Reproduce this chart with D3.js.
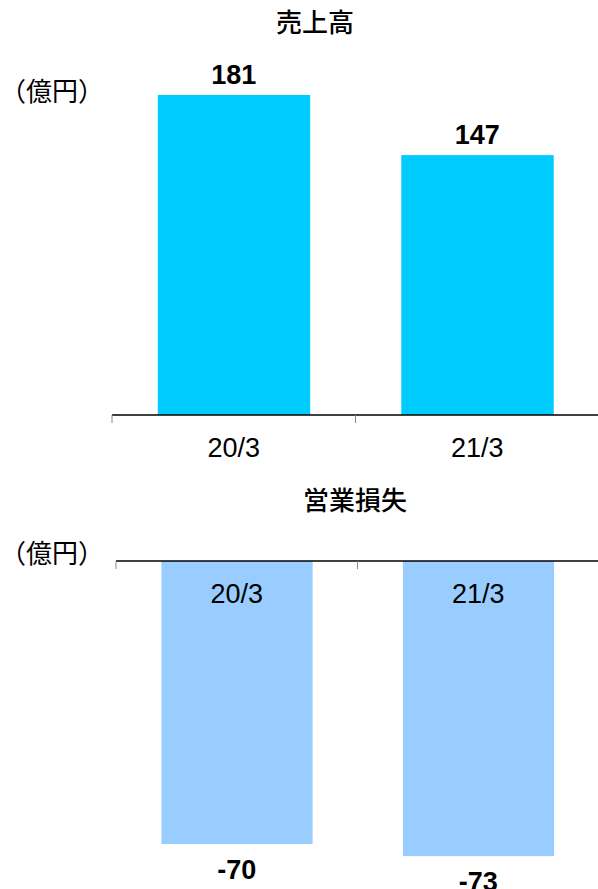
<!DOCTYPE html>
<html><head><meta charset="utf-8">
<script src="https://cdn.jsdelivr.net/npm/d3@7"></script>
<style>
body{margin:0;background:#fff;}
svg{display:block;}
.lat{font-family:"Liberation Sans",Arial,sans-serif;}
.cjk{font-family:"Noto Sans CJK JP",sans-serif;}
</style></head>
<body>
<script>
const categories = ["20/3", "21/3"];
const salesValues = [181, 147];
const lossValues = [-70, -73];
const titles = ["売上高", "営業損失"];
const unitLabel = "（億円）";

const W = 598, H = 889;
const svg = d3.select("body").append("svg").attr("width", W).attr("height", H);

function drawPanel(cfg) {
  const g = svg.append("g");
  const x = d3.scaleBand().domain(categories).range([cfg.x0, cfg.x0 + cfg.step * categories.length]).padding(0);
  const y = d3.scaleLinear().domain(cfg.domain).range(cfg.range);
  const bw = x.bandwidth();
  const data = categories.map((c, i) => ({c, v: cfg.values[i]}));

  g.selectAll("rect").data(data).join("rect")
    .attr("x", d => x(d.c) + bw * 0.188)
    .attr("width", bw * 0.626)
    .attr("y", d => Math.min(y(0), y(d.v)))
    .attr("height", d => Math.abs(y(d.v) - y(0)))
    .attr("fill", cfg.color);

  const y0 = y(0);
  g.append("line").attr("x1", cfg.x0).attr("x2", W + 5).attr("y1", y0).attr("y2", y0)
    .attr("stroke", "#000").attr("stroke-width", 1.3);
  const bounds = categories.map(c => x(c)).concat([x(categories[categories.length - 1]) + bw]);
  g.selectAll("line.tk").data(bounds).join("line").attr("class", "tk")
    .attr("x1", d => d).attr("x2", d => d).attr("y1", y0).attr("y2", y0 + 8)
    .attr("stroke", "#888").attr("stroke-width", 1);

  g.selectAll("text.cat").data(data).join("text").attr("class", "cat lat")
    .attr("x", d => x(d.c) + bw / 2).attr("y", y0 + cfg.catDy)
    .attr("text-anchor", "middle").attr("font-size", 27).attr("fill", "#000")
    .text(d => d.c);

  g.selectAll("text.val").data(data).join("text").attr("class", "val lat")
    .attr("x", d => x(d.c) + bw / 2)
    .attr("y", d => y(d.v) + (d.v >= 0 ? -11 : 35))
    .attr("text-anchor", "middle").attr("font-size", 27).attr("font-weight", "bold").attr("fill", "#000")
    .text(d => d.v);

  g.append("text").attr("class", "cjk").attr("x", cfg.titleX).attr("y", cfg.titleY)
    .attr("text-anchor", "middle").attr("font-size", 26).attr("font-weight", 500).text(cfg.title);
  g.append("text").attr("class", "cjk").attr("x", 0).attr("y", cfg.unitY)
    .attr("font-size", 26).text(unitLabel);
}

drawPanel({values: salesValues, domain: [0, 181], range: [415, 95], x0: 112, step: 243.5,
  color: "#00CCFF", catDy: 42, title: titles[0], titleX: 315, titleY: 32, unitY: 101});
drawPanel({values: lossValues, domain: [0, -70], range: [561, 844], x0: 116, step: 241.5,
  color: "#99CCFF", catDy: 42, title: titles[1], titleX: 355, titleY: 510, unitY: 563});
</script>
</body></html>
